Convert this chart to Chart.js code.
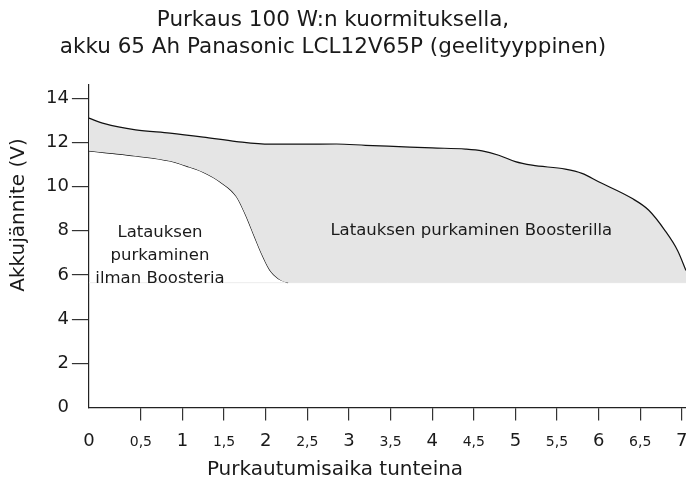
<!DOCTYPE html>
<html>
<head>
<meta charset="utf-8">
<script src="https://cdn.jsdelivr.net/npm/chart.js@4.4.1/dist/chart.umd.min.js"></script>
<style>
  html, body { margin: 0; padding: 0; background: #fff; }
</style>
</head>
<body>
<canvas id="discharge" width="686" height="482"></canvas>
<script>
"use strict";

var titleLines = ['Purkaus 100 W:n kuormituksella,', 'akku 65 Ah Panasonic LCL12V65P (geelityyppinen)'];
var xTitle = 'Purkautumisaika tunteina';
var yTitle = 'Akkujännite (V)';

// discharge with the Booster
var boosterHours = [0, 0.15, 0.45, 0.85, 1.25, 1.65, 2.05, 2.45, 2.85, 3.2, 3.6, 4.0, 4.4, 4.6, 4.8, 5.0, 5.2, 5.6, 5.8, 6.0, 6.4, 6.6, 6.8, 6.95, 7.05];
var boosterVolts = [13.1, 12.85, 12.57, 12.42, 12.24, 12.04, 11.92, 11.92, 11.93, 11.87, 11.81, 11.75, 11.7, 11.62, 11.42, 11.13, 10.97, 10.79, 10.6, 10.22, 9.47, 8.94, 8.0, 7.1, 6.2];

// discharge without the Booster
var plainHours = [0, 0.15, 0.45, 0.85, 1.05, 1.25, 1.45, 1.65, 1.75, 1.85, 1.95, 2.05, 2.15, 2.27];
var plainVolts = [11.62, 11.54, 11.39, 11.16, 10.93, 10.65, 10.22, 9.54, 8.79, 7.88, 6.97, 6.22, 5.84, 5.65];

var cutoffVolts = 5.65;
var lastHour = 7.05;

var xTickValues = [0, 0.5, 1, 1.5, 2, 2.5, 3, 3.5, 4, 4.5, 5, 5.5, 6, 6.5, 7];
var xTickLabels = ['0', '0,5', '1', '1,5', '2', '2,5', '3', '3,5', '4', '4,5', '5', '5,5', '6', '6,5', '7'];
var yTickValues = [0, 2, 4, 6, 8, 10, 12, 14];

var noteLines = [['Latauksen', 'purkaminen', 'ilman Boosteria'], ['Latauksen purkaminen Boosterilla']];
var noteX = [0.73, 4.47];
var noteY = [7.9, 8.0];

// the first half hour takes more room on the axis than the others
var FIRST_HALF_SHARE = 0.087;

class HourScale extends Chart.LinearScale {
    getPixelForValue(value) {
        if (value === null || value === undefined || isNaN(value)) return NaN;
        var dec;
        if (value <= 0.5) {
            dec = (value - this.min) / (0.5 - this.min) * FIRST_HALF_SHARE;
        } else {
            dec = FIRST_HALF_SHARE + (value - 0.5) / (this.max - 0.5) * (1 - FIRST_HALF_SHARE);
        }
        return this.getPixelForDecimal(dec);
    }
    getValueForPixel(pixel) {
        var dec = this.getDecimalForPixel(pixel);
        if (dec <= FIRST_HALF_SHARE) return this.min + dec / FIRST_HALF_SHARE * (0.5 - this.min);
        return 0.5 + (dec - FIRST_HALF_SHARE) / (1 - FIRST_HALF_SHARE) * (this.max - 0.5);
    }
}
HourScale.id = 'hours';
HourScale.defaults = Chart.LinearScale.defaults;
Chart.register(HourScale);

function toPoints(xs, ys) {
    var pts = [];
    for (var i = 0; i < xs.length; i++) {
        pts.push({ x: xs[i], y: ys[i] });
    }
    return pts;
}

var boosterData = toPoints(boosterHours, boosterVolts);
var plainData = toPoints(plainHours, plainVolts);
// lower edge of the grey area: the plain curve, then the cut-off level
var floorData = plainData.concat([{ x: lastHour, y: cutoffVolts }]);
var cutoffData = [{ x: 0, y: cutoffVolts }, { x: lastHour, y: cutoffVolts }];

var figureText = {
    id: 'figureText',
    afterDraw: function (chart) {
        var ctx = chart.ctx;
        var xs = chart.scales.x, ys = chart.scales.y;
        ctx.save();
        ctx.fillStyle = '#1a1a1a';
        ctx.textAlign = 'center';
        ctx.textBaseline = 'middle';

        ctx.font = '21.5px "DejaVu Sans"';
        ctx.fillText(titleLines[0], 333, 20);
        ctx.fillText(titleLines[1], 333, 47);

        ctx.font = '20px "DejaVu Sans"';
        ctx.fillText(xTitle, 335, 470);
        ctx.save();
        ctx.translate(19, 215);
        ctx.rotate(-Math.PI / 2);
        ctx.fillText(yTitle, 0, 0);
        ctx.restore();

        ctx.font = '16.5px "DejaVu Sans"';
        for (var i = 0; i < noteLines.length; i++) {
            var cx = xs.getPixelForValue(noteX[i]);
            var cy = ys.getPixelForValue(noteY[i]);
            for (var j = 0; j < noteLines[i].length; j++) {
                ctx.fillText(noteLines[i][j], cx, cy + j * 23);
            }
        }
        ctx.restore();
    }
};

Chart.defaults.font.family = '"DejaVu Sans"';
Chart.defaults.color = '#1a1a1a';

var noTickAtZero = function (c) {
    return c.tick && c.tick.value === 0 ? 'rgba(0,0,0,0)' : '#333';
};

var ctx = document.getElementById('discharge');

var myChart = new Chart(ctx, {
    type: 'line',
    data: {
        datasets: [
            {
                label: 'Boosterilla',
                data: boosterData,
                borderColor: '#111',
                borderWidth: 1.2,
                backgroundColor: '#e5e5e5',
                fill: 2,
                pointRadius: 0,
                cubicInterpolationMode: 'monotone'
            },
            {
                label: 'ilman Boosteria',
                data: plainData,
                borderWidth: 1.2,
                borderColor: '#111',
                fill: false,
                pointRadius: 0,
                cubicInterpolationMode: 'monotone'
            },
            {
                label: 'alaraja',
                data: floorData,
                borderWidth: 0,
                borderColor: 'rgba(0,0,0,0)',
                fill: false,
                pointRadius: 0,
                cubicInterpolationMode: 'monotone'
            },
            {
                label: 'katkaisujännite',
                data: cutoffData,
                borderWidth: 1,
                borderColor: '#ececec',
                fill: false,
                pointRadius: 0
            }
        ]
    },
    options: {
        responsive: false,
        animation: false,
        events: [],
        layout: { padding: { top: 85, left: 43, right: 0, bottom: 17 } },
        plugins: {
            legend: { display: false },
            title: { display: false },
            tooltip: { enabled: false }
        },
        scales: {
            x: {
                type: 'hours',
                min: 0,
                max: lastHour,
                afterBuildTicks: function (axis) {
                    axis.ticks = xTickValues.map(function (v) { return { value: v }; });
                },
                afterFit: function (axis) {
                    axis.paddingLeft = 0;
                    axis.paddingRight = 0;
                },
                ticks: {
                    autoSkip: false,
                    maxRotation: 0,
                    padding: 10,
                    callback: function (v, i) { return xTickLabels[i]; },
                    font: function (c) {
                        if (c.tick && c.tick.value % 1 !== 0) return { size: 14, lineHeight: 1.75 };
                        return { size: 18 };
                    }
                },
                grid: { drawOnChartArea: false, tickLength: 13, color: noTickAtZero, lineWidth: 1.2 },
                border: { color: '#222', width: 1.2 }
            },
            y: {
                min: 0,
                max: 14.6,
                afterBuildTicks: function (axis) {
                    axis.ticks = yTickValues.map(function (v) { return { value: v }; });
                },
                ticks: { padding: 3, font: { size: 18 } },
                grid: { drawOnChartArea: false, tickLength: 17, color: noTickAtZero, lineWidth: 1.2 },
                border: { color: '#222', width: 1.2 }
            }
        }
    },
    plugins: [figureText]
});
</script>
</body>
</html>
